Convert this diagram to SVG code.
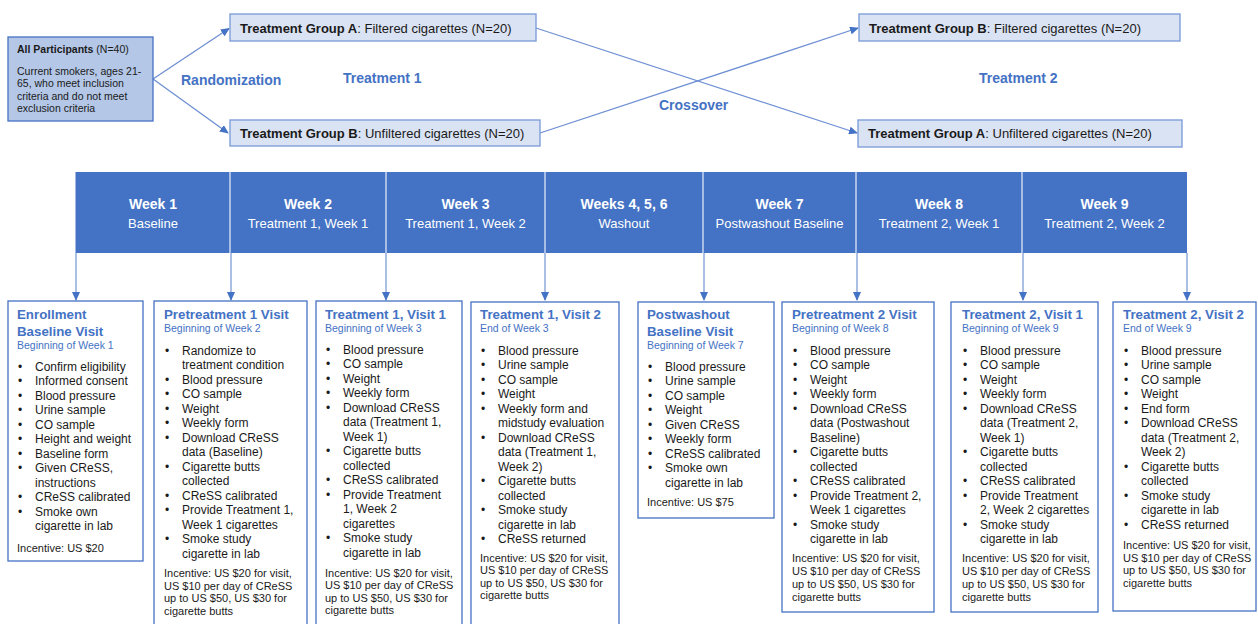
<svg xmlns="http://www.w3.org/2000/svg" width="1258" height="624" viewBox="0 0 1258 624">
<style>
text{font-family:"Liberation Sans",Arial,sans-serif}
.box{fill:#fff;stroke:#4472c4;stroke-width:1.3}
.grp{fill:#dae3f3;stroke:#7f9fd9;stroke-width:1.4}
.all{fill:#b4c7e7;stroke:#4472c4;stroke-width:1.3}
.gt{font-size:13px;fill:#1a1a1a}
.at{font-size:10.5px;fill:#1a1a1a}
.lbl{font-size:14px;font-weight:bold;fill:#4472c4}
.tt{font-size:13.3px;font-weight:bold;fill:#4472c4}
.st{font-size:10.5px;fill:#4472c4}
.bl{font-size:12px;fill:#1a1a1a}
.dot{font-size:12px;fill:#1a1a1a;text-anchor:middle}
.inc{font-size:11px;fill:#1a1a1a}
.wk{font-size:14px;font-weight:bold;fill:#fff;text-anchor:middle}
.ws{font-size:13px;fill:#fff;text-anchor:middle}
.ln{stroke:#6d8fd3;stroke-width:1.3;fill:none}
.va{stroke:#8eaadb;stroke-width:1.5;fill:none}
.dv{stroke:#c9d7f0;stroke-width:1.5}
</style>
<defs>
<marker id="ah" markerUnits="userSpaceOnUse" markerWidth="9" markerHeight="8" refX="8" refY="4" orient="auto">
<path d="M0,0 L9,4 L0,8 Z" fill="#4472c4"/>
</marker>
</defs>

<g id="connectors">
<line class="ln" x1="153" y1="79" x2="229" y2="28.5" marker-end="url(#ah)"/>
<line class="ln" x1="153" y1="79" x2="228" y2="133" marker-end="url(#ah)"/>
<line class="ln" x1="536" y1="28" x2="857" y2="133" marker-end="url(#ah)"/>
<line class="ln" x1="540" y1="133" x2="858" y2="28" marker-end="url(#ah)"/>
<line class="va" x1="76" y1="253" x2="76" y2="300" marker-end="url(#ah)"/>
<line class="va" x1="231" y1="253" x2="231" y2="300" marker-end="url(#ah)"/>
<line class="va" x1="386" y1="253" x2="386" y2="300" marker-end="url(#ah)"/>
<line class="va" x1="545" y1="253" x2="545" y2="300" marker-end="url(#ah)"/>
<line class="va" x1="704" y1="253" x2="704" y2="300" marker-end="url(#ah)"/>
<line class="va" x1="857" y1="253" x2="857" y2="300" marker-end="url(#ah)"/>
<line class="va" x1="1023" y1="253" x2="1023" y2="300" marker-end="url(#ah)"/>
<line class="va" x1="1187" y1="253" x2="1187" y2="300" marker-end="url(#ah)"/>
</g>

<g id="all-participants">
<rect class="all" x="8" y="37" width="145" height="84"/>
<text class="at" x="17" y="52.5"><tspan font-weight="bold">All Participants</tspan> (N=40)</text>
<text class="at" x="17" y="74.5">Current smokers, ages 21-</text>
<text class="at" x="17" y="87">65, who meet inclusion</text>
<text class="at" x="17" y="99.5">criteria and do not meet</text>
<text class="at" x="17" y="112">exclusion criteria</text>
</g>

<g id="group-a-filtered">
<rect class="grp" x="230" y="14" width="306" height="27"/>
<text class="gt" x="240" y="32.5"><tspan font-weight="bold">Treatment Group A</tspan>: Filtered cigarettes (N=20)</text>
</g>
<g id="group-b-unfiltered">
<rect class="grp" x="230" y="120" width="310" height="26"/>
<text class="gt" x="240" y="137.5"><tspan font-weight="bold">Treatment Group B</tspan>: Unfiltered cigarettes (N=20)</text>
</g>
<g id="group-b-filtered">
<rect class="grp" x="859" y="14" width="321" height="27"/>
<text class="gt" x="869" y="32.5"><tspan font-weight="bold">Treatment Group B</tspan>: Filtered cigarettes (N=20)</text>
</g>
<g id="group-a-unfiltered">
<rect class="grp" x="858" y="120" width="324" height="27"/>
<text class="gt" x="868" y="137.5"><tspan font-weight="bold">Treatment Group A</tspan>: Unfiltered cigarettes (N=20)</text>
</g>

<g id="labels">
<text class="lbl" x="181" y="84.5">Randomization</text>
<text class="lbl" x="343" y="82.5">Treatment 1</text>
<text class="lbl" x="659" y="110">Crossover</text>
<text class="lbl" x="979" y="82.5">Treatment 2</text>
</g>

<g id="timeline">
<rect x="75.5" y="172" width="1111.5" height="81" fill="#4472c4"/>
<line class="dv" x1="230" y1="172" x2="230" y2="253"/>
<line class="dv" x1="386" y1="172" x2="386" y2="253"/>
<line class="dv" x1="545" y1="172" x2="545" y2="253"/>
<line class="dv" x1="703" y1="172" x2="703" y2="253"/>
<line class="dv" x1="856" y1="172" x2="856" y2="253"/>
<line class="dv" x1="1022" y1="172" x2="1022" y2="253"/>
<text class="wk" x="153" y="209">Week 1</text><text class="ws" x="153" y="227.5">Baseline</text>
<text class="wk" x="308" y="209">Week 2</text><text class="ws" x="308" y="227.5">Treatment 1, Week 1</text>
<text class="wk" x="465.5" y="209">Week 3</text><text class="ws" x="465.5" y="227.5">Treatment 1, Week 2</text>
<text class="wk" x="624" y="209">Weeks 4, 5, 6</text><text class="ws" x="624" y="227.5">Washout</text>
<text class="wk" x="779.5" y="209">Week 7</text><text class="ws" x="779.5" y="227.5">Postwashout Baseline</text>
<text class="wk" x="939" y="209">Week 8</text><text class="ws" x="939" y="227.5">Treatment 2, Week 1</text>
<text class="wk" x="1104.5" y="209">Week 9</text><text class="ws" x="1104.5" y="227.5">Treatment 2, Week 2</text>
</g>

<g id="visit-enrollment">
<rect class="box" x="8" y="301" width="135" height="260"/>
<text class="tt" x="17" y="318.5">Enrollment</text>
<text class="tt" x="17" y="335.5">Baseline Visit</text>
<text class="st" x="17" y="348.5">Beginning of Week 1</text>
<text class="dot" x="20"><tspan x="20" y="370.5">•</tspan><tspan x="20" y="385">•</tspan><tspan x="20" y="399.5">•</tspan><tspan x="20" y="414">•</tspan><tspan x="20" y="428.5">•</tspan><tspan x="20" y="443">•</tspan><tspan x="20" y="457.5">•</tspan><tspan x="20" y="472">•</tspan><tspan x="20" y="501">•</tspan><tspan x="20" y="515.5">•</tspan></text>
<text class="bl"><tspan x="35" y="370.5">Confirm eligibility</tspan><tspan x="35" y="385">Informed consent</tspan><tspan x="35" y="399.5">Blood pressure</tspan><tspan x="35" y="414">Urine sample</tspan><tspan x="35" y="428.5">CO sample</tspan><tspan x="35" y="443">Height and weight</tspan><tspan x="35" y="457.5">Baseline form</tspan><tspan x="35" y="472">Given CReSS,</tspan><tspan x="35" y="486.5">instructions</tspan><tspan x="35" y="501">CReSS calibrated</tspan><tspan x="35" y="515.5">Smoke own</tspan><tspan x="35" y="530">cigarette in lab</tspan></text>
<text class="inc" x="17" y="552">Incentive: US $20</text>
</g>

<g id="visit-pretreatment-1">
<rect class="box" x="154" y="301" width="153" height="330"/>
<text class="tt" x="164" y="319">Pretreatment 1 Visit</text>
<text class="st" x="164" y="332">Beginning of Week 2</text>
<text class="dot"><tspan x="167" y="354.5">•</tspan><tspan x="167" y="383.5">•</tspan><tspan x="167" y="398">•</tspan><tspan x="167" y="412.5">•</tspan><tspan x="167" y="427">•</tspan><tspan x="167" y="441.5">•</tspan><tspan x="167" y="470.5">•</tspan><tspan x="167" y="499.5">•</tspan><tspan x="167" y="514">•</tspan><tspan x="167" y="543">•</tspan></text>
<text class="bl"><tspan x="182" y="354.5">Randomize to</tspan><tspan x="182" y="369">treatment condition</tspan><tspan x="182" y="383.5">Blood pressure</tspan><tspan x="182" y="398">CO sample</tspan><tspan x="182" y="412.5">Weight</tspan><tspan x="182" y="427">Weekly form</tspan><tspan x="182" y="441.5">Download CReSS</tspan><tspan x="182" y="456">data (Baseline)</tspan><tspan x="182" y="470.5">Cigarette butts</tspan><tspan x="182" y="485">collected</tspan><tspan x="182" y="499.5">CReSS calibrated</tspan><tspan x="182" y="514">Provide Treatment 1,</tspan><tspan x="182" y="528.5">Week 1 cigarettes</tspan><tspan x="182" y="543">Smoke study</tspan><tspan x="182" y="557.5">cigarette in lab</tspan></text>
<text class="inc"><tspan x="164" y="577">Incentive: US $20 for visit,</tspan><tspan x="164" y="589.5">US $10 per day of CReSS</tspan><tspan x="164" y="602">up to US $50, US $30 for</tspan><tspan x="164" y="614.5">cigarette butts</tspan></text>
</g>

<g id="visit-treatment-1-1">
<rect class="box" x="316" y="301" width="146" height="330"/>
<text class="tt" x="325" y="318.5">Treatment 1, Visit 1</text>
<text class="st" x="325" y="331.5">Beginning of Week 3</text>
<text class="dot"><tspan x="328" y="353.5">•</tspan><tspan x="328" y="368">•</tspan><tspan x="328" y="382.5">•</tspan><tspan x="328" y="397">•</tspan><tspan x="328" y="411.5">•</tspan><tspan x="328" y="455">•</tspan><tspan x="328" y="484">•</tspan><tspan x="328" y="498.5">•</tspan><tspan x="328" y="542">•</tspan></text>
<text class="bl"><tspan x="343" y="353.5">Blood pressure</tspan><tspan x="343" y="368">CO sample</tspan><tspan x="343" y="382.5">Weight</tspan><tspan x="343" y="397">Weekly form</tspan><tspan x="343" y="411.5">Download CReSS</tspan><tspan x="343" y="426">data (Treatment 1,</tspan><tspan x="343" y="440.5">Week 1)</tspan><tspan x="343" y="455">Cigarette butts</tspan><tspan x="343" y="469.5">collected</tspan><tspan x="343" y="484">CReSS calibrated</tspan><tspan x="343" y="498.5">Provide Treatment</tspan><tspan x="343" y="513">1, Week 2</tspan><tspan x="343" y="527.5">cigarettes</tspan><tspan x="343" y="542">Smoke study</tspan><tspan x="343" y="556.5">cigarette in lab</tspan></text>
<text class="inc"><tspan x="325" y="576.5">Incentive: US $20 for visit,</tspan><tspan x="325" y="589">US $10 per day of CReSS</tspan><tspan x="325" y="601.5">up to US $50, US $30 for</tspan><tspan x="325" y="614">cigarette butts</tspan></text>
</g>

<g id="visit-treatment-1-2">
<rect class="box" x="471" y="302" width="148" height="330"/>
<text class="tt" x="480" y="319">Treatment 1, Visit 2</text>
<text class="st" x="480" y="332">End of Week 3</text>
<text class="dot"><tspan x="483" y="354.5">•</tspan><tspan x="483" y="369">•</tspan><tspan x="483" y="383.5">•</tspan><tspan x="483" y="398">•</tspan><tspan x="483" y="412.5">•</tspan><tspan x="483" y="441.5">•</tspan><tspan x="483" y="485">•</tspan><tspan x="483" y="514">•</tspan><tspan x="483" y="543">•</tspan></text>
<text class="bl"><tspan x="498" y="354.5">Blood pressure</tspan><tspan x="498" y="369">Urine sample</tspan><tspan x="498" y="383.5">CO sample</tspan><tspan x="498" y="398">Weight</tspan><tspan x="498" y="412.5">Weekly form and</tspan><tspan x="498" y="427">midstudy evaluation</tspan><tspan x="498" y="441.5">Download CReSS</tspan><tspan x="498" y="456">data (Treatment 1,</tspan><tspan x="498" y="470.5">Week 2)</tspan><tspan x="498" y="485">Cigarette butts</tspan><tspan x="498" y="499.5">collected</tspan><tspan x="498" y="514">Smoke study</tspan><tspan x="498" y="528.5">cigarette in lab</tspan><tspan x="498" y="543">CReSS returned</tspan></text>
<text class="inc"><tspan x="480" y="561.5">Incentive: US $20 for visit,</tspan><tspan x="480" y="574">US $10 per day of CReSS</tspan><tspan x="480" y="586.5">up to US $50, US $30 for</tspan><tspan x="480" y="599">cigarette butts</tspan></text>
</g>

<g id="visit-postwashout">
<rect class="box" x="638" y="302" width="136" height="216"/>
<text class="tt" x="647" y="318.5">Postwashout</text>
<text class="tt" x="647" y="335.5">Baseline Visit</text>
<text class="st" x="647" y="348.5">Beginning of Week 7</text>
<text class="dot"><tspan x="650" y="370.5">•</tspan><tspan x="650" y="385">•</tspan><tspan x="650" y="399.5">•</tspan><tspan x="650" y="414">•</tspan><tspan x="650" y="428.5">•</tspan><tspan x="650" y="443">•</tspan><tspan x="650" y="457.5">•</tspan><tspan x="650" y="472">•</tspan></text>
<text class="bl"><tspan x="665" y="370.5">Blood pressure</tspan><tspan x="665" y="385">Urine sample</tspan><tspan x="665" y="399.5">CO sample</tspan><tspan x="665" y="414">Weight</tspan><tspan x="665" y="428.5">Given CReSS</tspan><tspan x="665" y="443">Weekly form</tspan><tspan x="665" y="457.5">CReSS calibrated</tspan><tspan x="665" y="472">Smoke own</tspan><tspan x="665" y="486.5">cigarette in lab</tspan></text>
<text class="inc" x="647" y="505.5">Incentive: US $75</text>
</g>

<g id="visit-pretreatment-2">
<rect class="box" x="782" y="302" width="152" height="310"/>
<text class="tt" x="792" y="319">Pretreatment 2 Visit</text>
<text class="st" x="792" y="332">Beginning of Week 8</text>
<text class="dot"><tspan x="795" y="354.5">•</tspan><tspan x="795" y="369">•</tspan><tspan x="795" y="383.5">•</tspan><tspan x="795" y="398">•</tspan><tspan x="795" y="412.5">•</tspan><tspan x="795" y="456">•</tspan><tspan x="795" y="485">•</tspan><tspan x="795" y="499.5">•</tspan><tspan x="795" y="528.5">•</tspan></text>
<text class="bl"><tspan x="810" y="354.5">Blood pressure</tspan><tspan x="810" y="369">CO sample</tspan><tspan x="810" y="383.5">Weight</tspan><tspan x="810" y="398">Weekly form</tspan><tspan x="810" y="412.5">Download CReSS</tspan><tspan x="810" y="427">data (Postwashout</tspan><tspan x="810" y="441.5">Baseline)</tspan><tspan x="810" y="456">Cigarette butts</tspan><tspan x="810" y="470.5">collected</tspan><tspan x="810" y="485">CReSS calibrated</tspan><tspan x="810" y="499.5">Provide Treatment 2,</tspan><tspan x="810" y="514">Week 1 cigarettes</tspan><tspan x="810" y="528.5">Smoke study</tspan><tspan x="810" y="543">cigarette in lab</tspan></text>
<text class="inc"><tspan x="792" y="561.5">Incentive: US $20 for visit,</tspan><tspan x="792" y="574.5">US $10 per day of CReSS</tspan><tspan x="792" y="587.5">up to US $50, US $30 for</tspan><tspan x="792" y="600.5">cigarette butts</tspan></text>
</g>

<g id="visit-treatment-2-1">
<rect class="box" x="951" y="302" width="147" height="310"/>
<text class="tt" x="962" y="319">Treatment 2, Visit 1</text>
<text class="st" x="962" y="332">Beginning of Week 9</text>
<text class="dot"><tspan x="965" y="354.5">•</tspan><tspan x="965" y="369">•</tspan><tspan x="965" y="383.5">•</tspan><tspan x="965" y="398">•</tspan><tspan x="965" y="412.5">•</tspan><tspan x="965" y="456">•</tspan><tspan x="965" y="485">•</tspan><tspan x="965" y="499.5">•</tspan><tspan x="965" y="528.5">•</tspan></text>
<text class="bl"><tspan x="980" y="354.5">Blood pressure</tspan><tspan x="980" y="369">CO sample</tspan><tspan x="980" y="383.5">Weight</tspan><tspan x="980" y="398">Weekly form</tspan><tspan x="980" y="412.5">Download CReSS</tspan><tspan x="980" y="427">data (Treatment 2,</tspan><tspan x="980" y="441.5">Week 1)</tspan><tspan x="980" y="456">Cigarette butts</tspan><tspan x="980" y="470.5">collected</tspan><tspan x="980" y="485">CReSS calibrated</tspan><tspan x="980" y="499.5">Provide Treatment</tspan><tspan x="980" y="514">2, Week 2 cigarettes</tspan><tspan x="980" y="528.5">Smoke study</tspan><tspan x="980" y="543">cigarette in lab</tspan></text>
<text class="inc"><tspan x="962" y="561.5">Incentive: US $20 for visit,</tspan><tspan x="962" y="574.5">US $10 per day of CReSS</tspan><tspan x="962" y="587.5">up to US $50, US $30 for</tspan><tspan x="962" y="600.5">cigarette butts</tspan></text>
</g>

<g id="visit-treatment-2-2">
<rect class="box" x="1113" y="302" width="143" height="309"/>
<text class="tt" x="1123" y="319">Treatment 2, Visit 2</text>
<text class="st" x="1123" y="332">End of Week 9</text>
<text class="dot"><tspan x="1126" y="354.5">•</tspan><tspan x="1126" y="369">•</tspan><tspan x="1126" y="383.5">•</tspan><tspan x="1126" y="398">•</tspan><tspan x="1126" y="412.5">•</tspan><tspan x="1126" y="427">•</tspan><tspan x="1126" y="470.5">•</tspan><tspan x="1126" y="499.5">•</tspan><tspan x="1126" y="528.5">•</tspan></text>
<text class="bl"><tspan x="1141" y="354.5">Blood pressure</tspan><tspan x="1141" y="369">Urine sample</tspan><tspan x="1141" y="383.5">CO sample</tspan><tspan x="1141" y="398">Weight</tspan><tspan x="1141" y="412.5">End form</tspan><tspan x="1141" y="427">Download CReSS</tspan><tspan x="1141" y="441.5">data (Treatment 2,</tspan><tspan x="1141" y="456">Week 2)</tspan><tspan x="1141" y="470.5">Cigarette butts</tspan><tspan x="1141" y="485">collected</tspan><tspan x="1141" y="499.5">Smoke study</tspan><tspan x="1141" y="514">cigarette in lab</tspan><tspan x="1141" y="528.5">CReSS returned</tspan></text>
<text class="inc"><tspan x="1123" y="548.5">Incentive: US $20 for visit,</tspan><tspan x="1123" y="561.5">US $10 per day of CReSS</tspan><tspan x="1123" y="574">up to US $50, US $30 for</tspan><tspan x="1123" y="586.5">cigarette butts</tspan></text>
</g>
</svg>
